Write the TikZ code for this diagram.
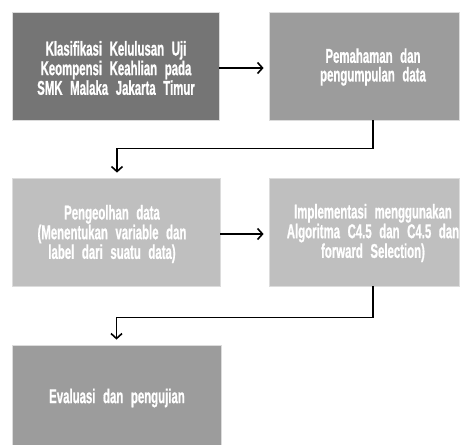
\documentclass[tikz,border=0pt]{standalone}
\usepackage{fontspec}
\setmainfont{Liberation Sans}[FakeStretch=0.57, WordSpace=2.4,
  BoldFont={Liberation Sans Bold}, BoldFeatures={FakeStretch=0.57, WordSpace=2.4, FakeBold=0.8}]
\usetikzlibrary{arrows.meta,calc}
\definecolor{boxdark}{HTML}{757575}
\definecolor{boxmid}{HTML}{9C9C9C}
\definecolor{boxlight}{HTML}{BFBFBF}
\definecolor{boxedge}{HTML}{DCDCDC}
\tikzset{
  stepbox/.style={rectangle, draw=boxedge, line width=0.8pt, inner sep=0pt},
  steptext/.style={text=white, align=center, inner sep=0pt,
    font=\bfseries\fontsize{20}{18.6}\selectfont},
  flow/.style={draw=black, line width=1.8pt,
    -{Straight Barb[length=5pt,width=11pt,line width=1.6pt]}},
}
\begin{document}
\begin{tikzpicture}[x=1pt,y=-1pt]
\useasboundingbox (0,0) rectangle (464,445);

% boxes
\node[stepbox, fill=boxdark,  minimum width=207pt, minimum height=108pt] (b1) at (115.5,66) {};
\node[stepbox, fill=boxmid,   minimum width=190pt, minimum height=108pt] (b2) at (364,66) {};
\node[stepbox, fill=boxlight, minimum width=208pt, minimum height=108pt] (b3) at (116,232) {};
\node[stepbox, fill=boxlight, minimum width=190pt, minimum height=108pt] (b4) at (364,232) {};
\node[stepbox, fill=boxmid,   minimum width=209pt, minimum height=105pt] (b5) at (116.5,397.5) {};

% labels
\node[steptext] (t1) at (116,68) {Klasifikasi Kelulusan Uji\\Keompensi Keahlian pada\\SMK Malaka Jakarta Timur};
\node[steptext] (t2) at (373,67) {Pemahaman dan\\pengumpulan data};
\node[steptext] (t3) at (112,234) {Pengeolhan data\\(Menentukan variable dan\\label dari suatu data)};
\node[steptext] (t4) at (373,233) {Implementasi menggunakan\\Algoritma C4.5 dan C4.5 dan\\forward Selection)};
\node[steptext] (t5) at (117,398) {Evaluasi dan pengujian};

% connectors
\draw[flow, shorten >=5pt] ([yshift=-2pt]b1.east) -- ([yshift=-2pt]b2.west);
\draw[flow, shorten >=5pt] ([yshift=-2pt]b3.east) -- ([yshift=-2pt]b4.west);
\coordinate (d2) at (b2.south -| t2.center);
\coordinate (d4) at (b4.south -| t4.center);
\draw[flow, shorten >=5pt] (d2) -- ($(d2)+(0,28)$) -| ([xshift=1pt]b3.north);
\draw[flow, shorten >=5pt] (d4) -- ($(d4)+(0,31)$) -| (b5.north);
\end{tikzpicture}
\end{document}
